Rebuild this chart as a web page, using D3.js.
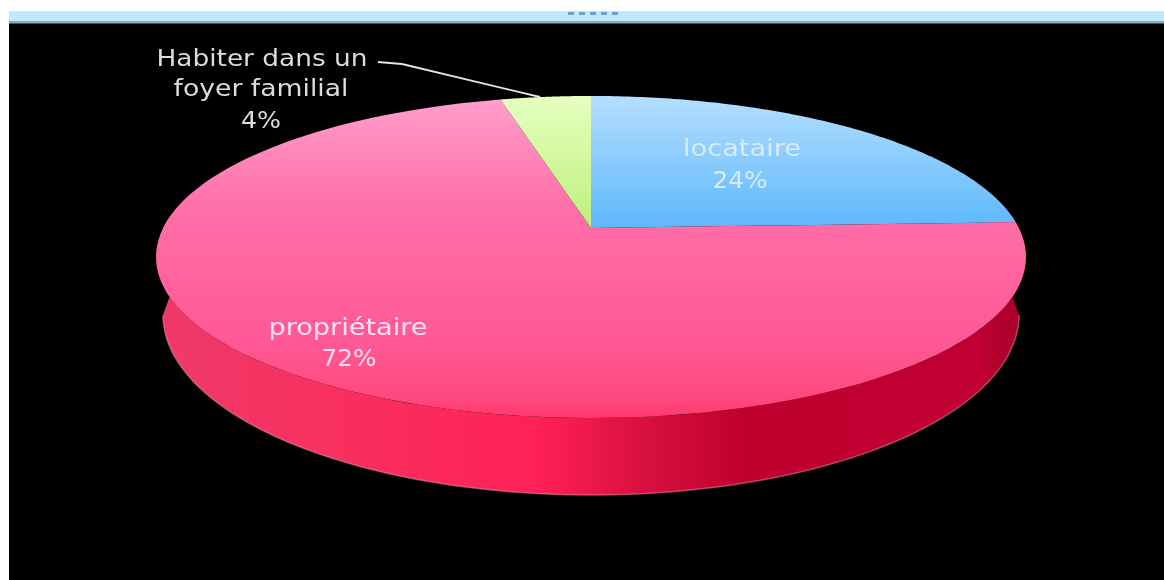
<!DOCTYPE html>
<html><head><meta charset="utf-8">
<script src="https://cdn.jsdelivr.net/npm/d3@7"></script>
<style>html,body{margin:0;padding:0;background:#fff;overflow:hidden}svg{display:block}
text{font-family:"DejaVu Sans",sans-serif;font-size:23px;text-anchor:middle}</style>
</head><body><svg id="c" width="1164" height="580"></svg>
<script>
const categories=["locataire","propriétaire","Habiter dans un foyer familial"];
const values=[24.4,71.6,4];
const percentLabels=["24%","72%","4%"];
const svg=d3.select("#c");
const P={cx:591,cy:228,k:427.9,m:155.8,p:0.18};
function proj(a){const u=Math.sin(a),v=-Math.cos(a),d=1-P.p*v;return [P.cx+P.k*u/d,P.cy+P.m*v/d];}
const arcs=d3.pie().sort(null).value(d=>d)(values);
const line=d3.line();
function slicePath(d){const n=120,pts=[[P.cx,P.cy]];
  d3.range(n+1).forEach(i=>pts.push(proj(d.startAngle+(d.endAngle-d.startAngle)*i/n)));
  return line(pts)+"Z";}
const defs=svg.append("defs");
function grad(id,stops,h){const g=defs.append("linearGradient").attr("id",id).attr("gradientUnits","userSpaceOnUse");
  if(h)g.attr("x1",163).attr("x2",1020).attr("y1",0).attr("y2",0);
  else g.attr("x1",0).attr("x2",0).attr("y1",96).attr("y2",418);
  stops.forEach(s=>g.append("stop").attr("offset",s[0]).attr("stop-color",s[1]));}
grad("gProp",[[0,"#ff9fcd"],[.35,"#ff6fa8"],[.75,"#ff5a96"],[.93,"#ff4a80"],[1,"#ff3a6c"]]);
grad("gLoc",[[0,"#b5deff"],[.41,"#5cb8fb"],[1,"#5cb8fb"]]);
grad("gHab",[[0,"#e6ffc0"],[.41,"#bdf07c"],[1,"#bdf07c"]]);
grad("gWall",[[0,"#ee3a68"],[.2,"#f8305f"],[.44,"#ff2058"],[.56,"#d8103f"],[.68,"#bf002e"],[.95,"#c00032"],[1,"#a80028"]],true);
defs.append("filter").attr("id","soft").append("feGaussianBlur").attr("stdDeviation",0.45);
svg.append("rect").attr("x",9).attr("y",11).attr("width",1155).attr("height",569).attr("fill","#000");
svg.append("rect").attr("x",9).attr("y",11).attr("width",1155).attr("height",10).attr("fill","#bfeafb");
svg.append("rect").attr("x",9).attr("y",21).attr("width",1155).attr("height",2.5).attr("fill","#8fa6c6");
svg.append("path").attr("d",line([[568,13.5],[620,13.5]])).attr("fill","none").attr("stroke","#6f9fd0").attr("stroke-width",3).attr("stroke-dasharray","6 5");
// side wall
const wall={cy:315,rx:428,ry:180,cx:591};
const lowerPts=d3.range(0,121).map(i=>{const t=Math.PI-Math.PI*i/120;return [wall.cx+wall.rx*Math.cos(t),wall.cy+wall.ry*Math.sin(t)];});
const rimPts=d3.range(0,181).map(i=>proj(Math.PI/2-0.35+(Math.PI+0.7)*(i/180))).filter(q=>q[0]>=163&&q[0]<=1019);
svg.append("path").attr("d",line(lowerPts.concat(rimPts))+"Z").attr("fill","url(#gWall)");
svg.append("path").attr("d",line(lowerPts)).attr("fill","none").attr("stroke","#ff9db8").attr("stroke-opacity",.45).attr("stroke-width",1.5).attr("filter","url(#soft)");
const fills=["url(#gLoc)","url(#gProp)","url(#gHab)"];
svg.selectAll("path.s").data(arcs).join("path").attr("class","s").attr("d",slicePath).attr("fill",(d,i)=>fills[i]);
// leader
svg.append("path").attr("d",line([[378,62],[402,64],[540,97]])).attr("fill","none").attr("stroke","#e4e4e4").attr("stroke-width",1.8);
const labelG=svg.append("g").attr("filter","url(#soft)");
function single(s,x,y,w,fill){labelG.append("text").attr("x",x).attr("y",y).attr("fill",fill)
  .attr("textLength",w).attr("lengthAdjust","spacingAndGlyphs").text(s);}
single(categories[0],742,156,118,"#d7ecfb");
single(percentLabels[0],740,188,55,"#d7ecfb");
single(categories[1],348,335,159,"#ffe4f0");
single(percentLabels[1],349,366,55,"#ffe4f0");
single("Habiter dans un",262,66,211,"#dcdcdc");
single("foyer familial",261,96,175,"#dcdcdc");
single(percentLabels[2],261,128,40,"#dcdcdc");
</script></body></html>
